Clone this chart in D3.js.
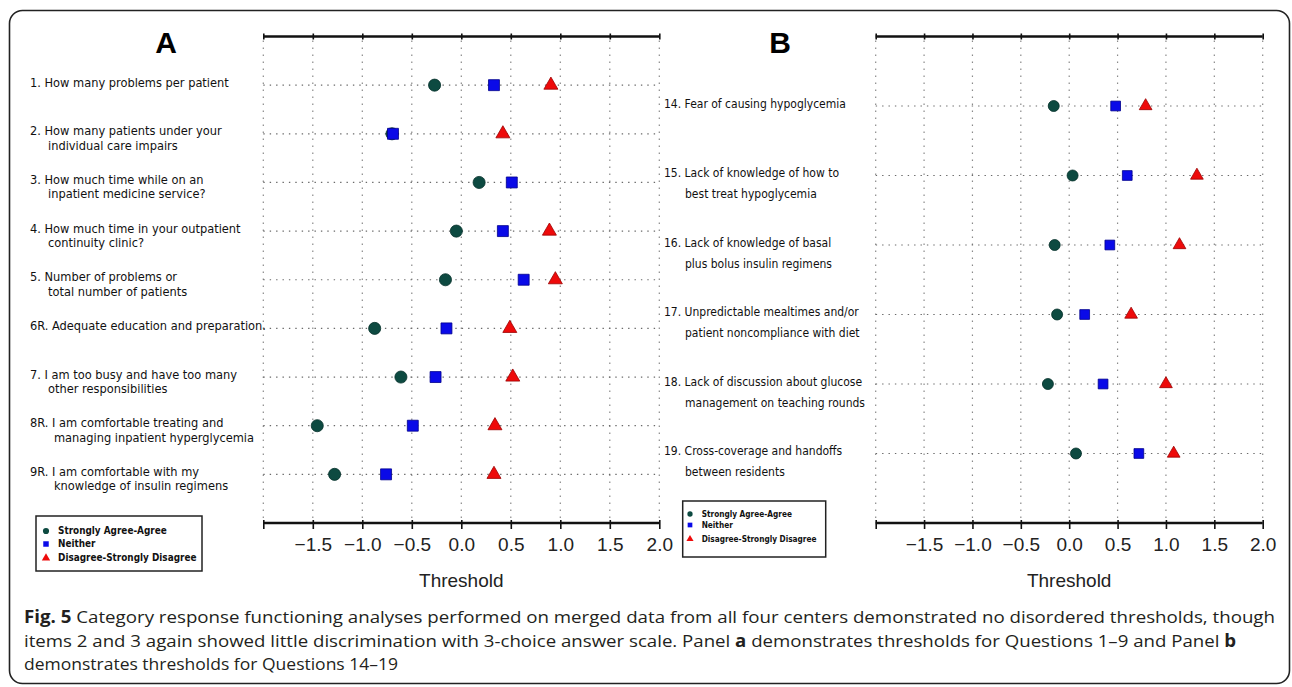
<!DOCTYPE html>
<html>
<head>
<meta charset="utf-8">
<script src="https://cdn.jsdelivr.net/npm/d3@7"></script>
<style>
  html, body { margin: 0; padding: 0; background: #fff; }
  svg { display: block; }
  .cond { font-stretch: condensed; }
</style>
</head>
<body>
<div id="chart"></div>
<script>
// ---------------- DATA ----------------
const itemsA = [
  ["1. How many problems per patient"],
  ["2. How many patients under your", "individual care impairs"],
  ["3. How much time while on an", "inpatient medicine service?"],
  ["4. How much time in your outpatient", "continuity clinic?"],
  ["5. Number of problems or", "total number of patients"],
  ["6R. Adequate education and preparation."],
  ["7. I am too busy and have too many", "other responsibilities"],
  ["8R. I am comfortable treating and", "managing inpatient hyperglycemia"],
  ["9R. I am comfortable with my", "knowledge of insulin regimens"]
];
const agreeA    = [-0.27, -0.70, 0.18, -0.05, -0.16, -0.875, -0.61, -1.455, -1.28];
const neitherA  = [ 0.33, -0.69, 0.51,  0.42,  0.63, -0.15, -0.26, -0.49, -0.76];
const disagreeA = [ 0.905, 0.42, null,  0.89,  0.95,  0.49,  0.52,  0.34,  0.33];

const itemsB = [
  ["14. Fear of causing hypoglycemia"],
  ["15. Lack of knowledge of how to", "best treat hypoglycemia"],
  ["16. Lack of knowledge of basal", "plus bolus insulin regimens"],
  ["17. Unpredictable mealtimes and/or", "patient noncompliance with diet"],
  ["18. Lack of discussion about glucose", "management on teaching rounds"],
  ["19. Cross-coverage and handoffs", "between residents"]
];
const agreeB    = [-0.16, 0.035, -0.15, -0.125, -0.22, 0.07];
const neitherB  = [ 0.48, 0.60,  0.42,  0.16,  0.35, 0.72];
const disagreeB = [ 0.79, 1.32,  1.14,  0.64,  1.00, 1.08];

const seriesNames = ["Strongly Agree-Agree", "Neither", "Disagree-Strongly Disagree"];
const xTicks = [-2, -1.5, -1, -0.5, 0, 0.5, 1, 1.5, 2];
const xTickLabels = ["", "\u22121.5", "\u22121.0", "\u22120.5", "0.0", "0.5", "1.0", "1.5", "2.0"];
const xTitle = "Threshold";
const captionLines = [
  [["Fig. 5", true], [" Category response functioning analyses performed on merged data from all four centers demonstrated no disordered thresholds, though", false]],
  [["items 2 and 3 again showed little discrimination with 3-choice answer scale. Panel ", false], ["a", true], [" demonstrates thresholds for Questions 1\u20139 and Panel ", false], ["b", true]],
  [["demonstrates thresholds for Questions 14\u201319", false]]
];

// ---------------- LAYOUT ----------------
const W = 1292, H = 687;
const svg = d3.select("#chart").append("svg").attr("width", W).attr("height", H);

svg.append("rect").attr("x", 9.5).attr("y", 10.5).attr("width", 1280).attr("height", 673)
  .attr("rx", 13).attr("fill", "none").attr("stroke", "#222").attr("stroke-width", 1.6);

const colors = { agree: "#0d4a41", neither: "#0a0ae8", disagree: "#ee0a0a" };
const strokes = { agree: "#05302a", neither: "#00008c", disagree: "#9a0000" };
const condFont = "'DejaVu Sans Condensed', 'DejaVu Sans', sans-serif";

function drawPanel(cfg) {
  const { x0, x1, y0, y1, items, agree, neither, disagree, letter, letterX,
          labelX, indentX, line2dy, labelDy, labelSize, mk, legend } = cfg;
  const n = items.length;
  const x = d3.scaleLinear().domain([-2, 2]).range([x0, x1]);
  const y = d3.scaleLinear().domain([0, n + 1]).range([y0, y1]);
  const g = svg.append("g");

  // vertical gridlines
  g.selectAll(".vg").data(xTicks).join("line")
    .attr("x1", d => x(d)).attr("x2", d => x(d))
    .attr("y1", y0 + 4).attr("y2", y1 - 4)
    .attr("stroke", "#8a8a8a").attr("stroke-width", 1.2).attr("stroke-dasharray", "1.4,5.6");
  // horizontal row lines
  const rows = d3.range(1, n + 1);
  g.selectAll(".hg").data(rows).join("line")
    .attr("x1", x0).attr("x2", x1)
    .attr("y1", d => y(d)).attr("y2", d => y(d))
    .attr("stroke", "#6a6a6a").attr("stroke-width", 1.2).attr("stroke-dasharray", "1.4,5");

  // axes
  const axTop = d3.axisTop(x).tickValues(xTicks).tickSize(3).tickFormat("");
  const gt = g.append("g").attr("transform", `translate(0,${y0})`).call(axTop);
  gt.select(".domain").attr("stroke", "#111").attr("stroke-width", 2.6).attr("d", `M${x0},0H${x1}`);
  gt.selectAll(".tick line").attr("stroke", "#111").attr("stroke-width", 1.6).attr("y1", -3).attr("y2", 3);

  const axBot = d3.axisBottom(x).tickValues(xTicks).tickSize(6)
    .tickFormat((d, i) => xTickLabels[i]);
  const gb = g.append("g").attr("transform", `translate(0,${y1})`).call(axBot);
  gb.select(".domain").attr("stroke", "#111").attr("stroke-width", 2.6).attr("d", `M${x0},0H${x1}`);
  gb.selectAll(".tick line").attr("stroke", "#111").attr("stroke-width", 1.6).attr("y1", -3).attr("y2", 6);
  gb.selectAll(".tick text").attr("y", 21).attr("dy", 0)
    .attr("font-family", "'Liberation Sans', Arial, sans-serif").attr("font-size", 19)
    .attr("fill", "#222").attr("dominant-baseline", "central");

  g.append("text").attr("x", x(0)).attr("y", 587).attr("text-anchor", "middle")
    .attr("font-family", "'Liberation Sans', Arial, sans-serif").attr("font-size", 19)
    .attr("fill", "#222").text(xTitle);

  // panel letter
  g.append("text").attr("x", letterX).attr("y", 53).attr("text-anchor", "middle")
    .attr("font-family", "'Liberation Sans', Arial, sans-serif").attr("font-weight", "bold")
    .attr("font-size", 30).attr("fill", "#000").text(letter);

  // item labels
  items.forEach((lines, i) => {
    const yy = y(i + 1);
    lines.forEach((t, j) => {
      g.append("text").attr("class", "cond").attr("x", j === 0 ? labelX : indentX[i])
        .attr("y", yy + labelDy + j * line2dy)
        .attr("font-family", condFont).attr("font-size", labelSize)
        .attr("fill", "#111").text(t);
    });
  });

  // markers
  const sets = [
    { key: "agree", vals: agree, type: d3.symbolCircle, size: mk.c },
    { key: "neither", vals: neither, type: d3.symbolSquare, size: mk.s },
    { key: "disagree", vals: disagree, type: d3.symbolTriangle, size: mk.t }
  ];
  sets.forEach(s => {
    g.selectAll(".m-" + s.key).data(s.vals.map((v, i) => ({ v, i })).filter(d => d.v !== null))
      .join("path")
      .attr("transform", d => `translate(${x(d.v)},${y(d.i + 1)})`)
      .attr("d", d3.symbol().type(s.type).size(s.size)())
      .attr("fill", colors[s.key]).attr("stroke", strokes[s.key]).attr("stroke-width", 0.8);
  });

  // legend
  const L = legend;
  const lg = svg.append("g");
  lg.append("rect").attr("x", L.x).attr("y", L.y).attr("width", L.w).attr("height", L.h)
    .attr("fill", "#fff").attr("stroke", "#222").attr("stroke-width", 1.5);
  const mtypes = [d3.symbolCircle, d3.symbolSquare, d3.symbolTriangle];
  const mkeys = ["agree", "neither", "disagree"];
  seriesNames.forEach((name, i) => {
    lg.append("path").attr("transform", `translate(${L.mx},${L.rows[i]})`)
      .attr("d", d3.symbol().type(mtypes[i]).size(L.msize)())
      .attr("fill", colors[mkeys[i]]);
    lg.append("text").attr("class", "cond").attr("x", L.tx).attr("y", L.rows[i]).attr("dy", "0.35em")
      .attr("font-family", condFont).attr("font-size", L.fs).attr("font-weight", 600)
      .attr("fill", "#111").text(name);
  });
}

drawPanel({
  x0: 263.3, x1: 659.3, y0: 36.5, y1: 523,
  items: itemsA, agree: agreeA, neither: neitherA, disagree: disagreeA,
  letter: "A", letterX: 166,
  labelX: 30, indentX: [48, 48, 48, 48, 48, 30, 48, 54, 54],
  line2dy: 14.5, labelDy: 1.5, labelSize: 12.7,
  mk: { c: 115, s: 120, t: 85 },
  legend: { x: 36, y: 516, w: 166, h: 55, mx: 46, tx: 58, rows: [531, 544, 558], msize: 30, fs: 9.9 }
});

drawPanel({
  x0: 875.7, x1: 1262.7, y0: 36.5, y1: 523,
  items: itemsB, agree: agreeB, neither: neitherB, disagree: disagreeB,
  letter: "B", letterX: 780,
  labelX: 664, indentX: [685, 685, 685, 685, 685, 685],
  line2dy: 21, labelDy: 1.5, labelSize: 12,
  mk: { c: 95, s: 95, t: 70 },
  legend: { x: 682.7, y: 501, w: 143, h: 56, mx: 690, tx: 701.7, rows: [514, 525, 539], msize: 22, fs: 8.2 }
});

// ---------------- CAPTION ----------------
const capY = [623, 647, 670];
const capW = [1251, 1212, 374];
captionLines.forEach((parts, i) => {
  const t = svg.append("text").attr("x", 24).attr("y", capY[i])
    .attr("font-family", "'Open Sans', 'Noto Sans', sans-serif").attr("font-size", 17)
    .attr("fill", "#231f20").attr("textLength", capW[i]).attr("lengthAdjust", "spacingAndGlyphs");
  parts.forEach(([s, b]) => {
    t.append("tspan").attr("font-weight", b ? "bold" : "normal").text(s);
  });
});
</script>
</body>
</html>
